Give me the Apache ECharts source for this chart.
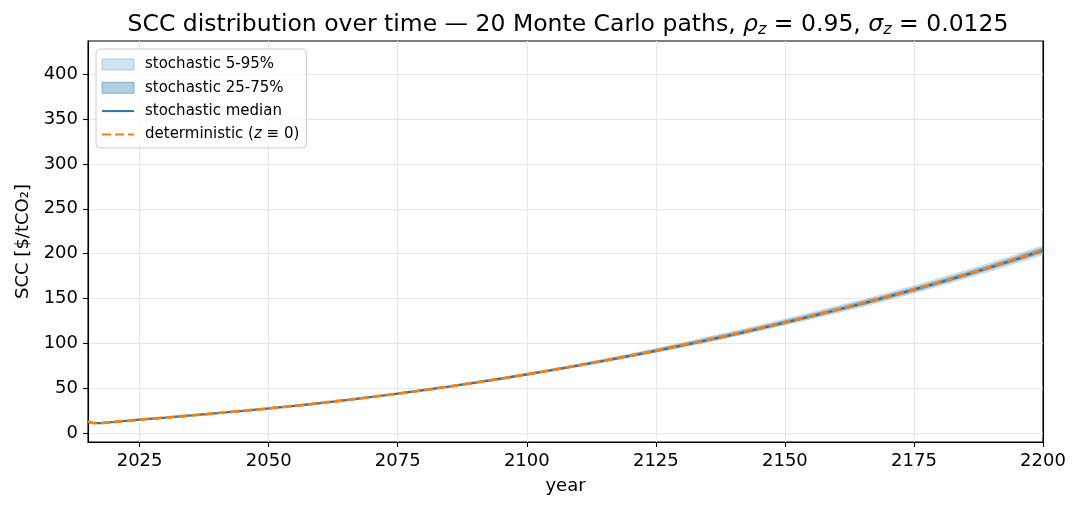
<!DOCTYPE html>
<html>
<head>
<meta charset="utf-8">
<script src="https://cdn.jsdelivr.net/npm/echarts@6/dist/echarts.min.js"></script>
<style>
  html, body { margin: 0; padding: 0; background: #fff; }
  #chart { width: 1079px; height: 507px; }
</style>
</head>
<body>
<div id="chart"></div>
<script>
// years on the x axis (yearly at the start, then every 5 years)
const years = [2015, 2016, 2017, 2018, 2020, 2025, 2030, 2035, 2040, 2045,
  2050, 2055, 2060, 2065, 2070, 2075, 2080, 2085, 2090, 2095,
  2100, 2105, 2110, 2115, 2120, 2125, 2130, 2135, 2140, 2145,
  2150, 2155, 2160, 2165, 2170, 2175, 2180, 2185, 2190, 2195, 2200];

// deterministic path (z = 0)
const detScc = [12.6, 11.2, 11.0, 11.3, 12.3, 14.9, 17.2, 19.6, 22.1, 24.7,
  27.4, 30.3, 33.4, 36.7, 40.2, 43.9, 47.8, 51.9, 56.2, 60.7,
  65.4, 70.3, 75.4, 80.7, 86.2, 91.9, 97.8, 103.9, 110.2, 116.7,
  123.4, 130.3, 137.4, 144.7, 152.2, 159.9, 168.2, 176.6, 185.4, 194.5, 204.0];

// stochastic median
const medianScc = [12.6, 11.2, 11.0, 11.3, 12.3, 14.9, 17.2, 19.6, 22.1, 24.7,
  27.4, 30.3, 33.4, 36.7, 40.2, 43.9, 47.8, 51.9, 56.2, 60.7,
  65.4, 70.3, 75.3, 80.6, 86.0, 91.6, 97.5, 103.5, 109.7, 116.3,
  123.1, 130.0, 137.2, 144.3, 152.0, 159.8, 167.9, 176.3, 185.1, 194.1, 203.6];

// percentile bands
const p5Scc = [12.5, 11.1, 10.9, 11.2, 12.2, 14.7, 17.0, 19.4, 21.8, 24.4,
  27.0, 29.9, 32.9, 36.2, 39.6, 43.2, 47.0, 51.0, 55.2, 59.6,
  64.2, 68.9, 73.9, 79.0, 84.3, 89.8, 95.5, 101.3, 107.4, 113.8,
  120.3, 127.1, 133.8, 140.8, 148.4, 156.1, 164.1, 172.4, 180.9, 189.8, 198.9];
const p25Scc = [12.55, 11.15, 10.95, 11.25, 12.25, 14.8, 17.1, 19.5, 22.0, 24.55,
  27.2, 30.1, 33.2, 36.45, 39.9, 43.55, 47.4, 51.45, 55.7, 60.15,
  64.8, 69.6, 74.6, 79.8, 85.2, 90.8, 96.5, 102.5, 108.6, 115.1,
  121.8, 128.6, 135.6, 142.7, 150.2, 157.9, 166.1, 174.4, 183.1, 192.0, 201.3];
const p75Scc = [12.65, 11.25, 11.05, 11.35, 12.35, 15.0, 17.3, 19.7, 22.2, 24.85,
  27.6, 30.5, 33.6, 36.95, 40.5, 44.25, 48.2, 52.35, 56.7, 61.25,
  66.0, 71.0, 76.2, 81.6, 87.2, 93.1, 99.1, 105.4, 111.7, 118.3,
  125.1, 132.2, 139.3, 146.6, 154.2, 162.0, 170.3, 178.8, 187.7, 196.8, 206.6];
const p95Scc = [12.7, 11.3, 11.1, 11.4, 12.4, 15.1, 17.4, 19.8, 22.4, 25.0,
  27.8, 30.7, 33.9, 37.2, 40.8, 44.6, 48.6, 52.8, 57.2, 61.8,
  66.6, 71.7, 77.0, 82.4, 88.2, 94.2, 100.3, 107.0, 113.2, 119.9,
  126.9, 134.0, 141.2, 148.3, 156.1, 164.0, 172.5, 181.0, 189.9, 199.0, 208.9];

// tick labels
const xTicks = [2025, 2050, 2075, 2100, 2125, 2150, 2175, 2200];
const yTicks = [0, 50, 100, 150, 200, 250, 300, 350, 400];

const FONT = 'DejaVu Sans';
const BLUE = '#1f77b4';
const ORANGE = '#ff7f0e';
const BAND_OUTER = 'rgba(31,119,180,0.2)';
const BAND_INNER = 'rgba(31,119,180,0.35)';

function pairs(vals) {
  return years.map((y, i) => [y, vals[i]]);
}

/**
 * 两条分位线之间的填充带
 */
function bandSeries(name, lo, hi, color) {
  return {
    name: name,
    type: 'custom',
    silent: true,
    clip: true,
    itemStyle: { color: color },
    data: [[years[0], lo[0]]],
    renderItem: function (params, api) {
      const points = [];
      for (let i = 0; i < years.length; i++) {
        points.push(api.coord([years[i], hi[i]]));
      }
      for (let i = years.length - 1; i >= 0; i--) {
        points.push(api.coord([years[i], lo[i]]));
      }
      return {
        type: 'polygon',
        shape: { points: points },
        style: { fill: color, stroke: color, lineWidth: 1 }
      };
    }
  };
}

const chart = echarts.init(document.getElementById('chart'), null, { renderer: 'canvas' });

const option = {
  backgroundColor: '#fff',
  animation: false,
  title: {
    text: '{n|SCC distribution over time — 20 Monte Carlo paths, }{i|ρ}{s|z}{n| = 0.95, }{i|σ}{s|z}{n| = 0.0125}',
    left: 563,
    top: 7,
    textAlign: 'center',
    textStyle: {
      fontWeight: 'normal',
      rich: {
        n: { fontFamily: FONT, fontSize: 23.5, fontWeight: 'normal', color: '#000' },
        i: { fontFamily: FONT, fontSize: 23.5, fontWeight: 'normal', fontStyle: 'italic', color: '#000' },
        s: { fontFamily: FONT, fontSize: 16, fontWeight: 'normal', fontStyle: 'italic', color: '#000', padding: [10, 0, 0, 0] }
      }
    }
  },
  legend: {
    orient: 'vertical',
    left: 96,
    top: 49,
    padding: [8, 7, 6, 5],
    itemGap: 8.3,
    itemWidth: 32,
    itemHeight: 11,
    backgroundColor: 'rgba(255,255,255,0.8)',
    borderColor: '#cccccc',
    borderWidth: 1,
    borderRadius: 4,
    textStyle: {
      fontFamily: FONT,
      fontSize: 15,
      color: '#000',
      lineHeight: 14,
      padding: [0, 0, 0, 6],
      rich: {
        n: { fontFamily: FONT, fontSize: 15, color: '#000' },
        i: { fontFamily: FONT, fontSize: 15, color: '#000', fontStyle: 'italic' }
      }
    },
    formatter: function (name) {
      if (name === 'deterministic') {
        return '{n|deterministic (}{i|z}{n| ≡ 0)}';
      }
      return name;
    },
    data: [
      { name: 'stochastic 5-95%', icon: 'rect',
        itemStyle: { color: BAND_OUTER, borderColor: 'rgba(31,119,180,0.3)', borderWidth: 1 } },
      { name: 'stochastic 25-75%', icon: 'rect',
        itemStyle: { color: BAND_INNER, borderColor: 'rgba(31,119,180,0.45)', borderWidth: 1 } },
      { name: 'stochastic median', itemStyle: { opacity: 0 } },
      { name: 'deterministic', itemStyle: { opacity: 0 } }
    ]
  },
  grid: {
    left: 88,
    right: 36,
    top: 41,
    bottom: 65,
    show: true,
    borderColor: '#000',
    borderWidth: 1.1,
    backgroundColor: 'transparent'
  },
  xAxis: {
    type: 'value',
    min: 2015,
    max: 2200,
    name: 'year',
    nameLocation: 'middle',
    nameGap: 35,
    nameTextStyle: { fontFamily: FONT, fontSize: 18, color: '#000' },
    axisLine: { show: true, onZero: false, lineStyle: { color: '#000', width: 1.1 } },
    axisTick: { show: true, inside: false, length: 5, customValues: xTicks,
      lineStyle: { color: '#000', width: 1.1 } },
    axisLabel: {
      customValues: xTicks,
      margin: 10,
      fontFamily: FONT,
      fontSize: 18,
      color: '#000',
      formatter: function (v) { return String(v); }
    },
    splitLine: { show: true, lineStyle: { color: '#e7e7e7', width: 1.1 } }
  },
  yAxis: [{
    type: 'value',
    min: -10,
    max: 437,
    name: 'SCC [$/tCO₂]',
    nameLocation: 'middle',
    nameGap: 56,
    nameTextStyle: { fontFamily: FONT, fontSize: 18, color: '#000' },
    axisLine: { show: true, onZero: false, lineStyle: { color: '#000', width: 1.1 } },
    axisTick: { show: true, inside: false, length: 5, customValues: yTicks,
      lineStyle: { color: '#000', width: 1.1 } },
    axisLabel: { customValues: yTicks, margin: 10, fontFamily: FONT, fontSize: 18, color: '#000' },
    splitLine: { show: true, lineStyle: { color: '#e7e7e7', width: 1.1 } }
  }, {
    // right-hand frame edge only
    type: 'value',
    position: 'right',
    min: -10,
    max: 437,
    axisLine: { show: true, onZero: false, lineStyle: { color: '#000', width: 1.1 } },
    axisTick: { show: false },
    axisLabel: { show: false },
    splitLine: { show: false }
  }],
  series: [
    bandSeries('stochastic 5-95%', p5Scc, p95Scc, BAND_OUTER),
    bandSeries('stochastic 25-75%', p25Scc, p75Scc, BAND_INNER),
    {
      name: 'stochastic median',
      type: 'line',
      symbol: 'none',
      data: pairs(medianScc),
      itemStyle: { color: BLUE },
      lineStyle: { color: BLUE, width: 2.2 }
    },
    {
      name: 'deterministic',
      type: 'line',
      symbol: 'none',
      data: pairs(detScc),
      itemStyle: { color: ORANGE },
      lineStyle: { color: ORANGE, width: 2.8, type: [9, 4] }
    }
  ]
};

chart.setOption(option);
</script>
</body>
</html>
